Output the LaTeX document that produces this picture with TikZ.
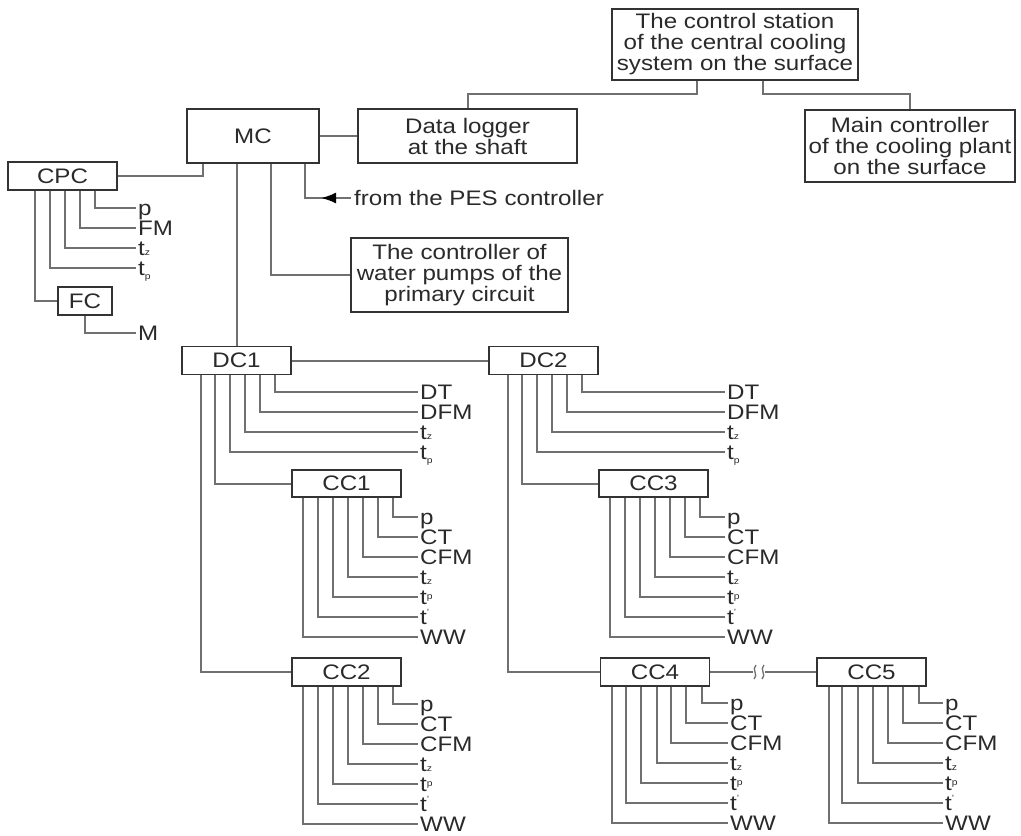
\documentclass[tikz,border=0pt]{standalone}
\usepackage{fontspec}
\setmainfont{Liberation Sans}[FakeStretch=1.15]
\usetikzlibrary{arrows.meta}
\definecolor{wiregray}{HTML}{707070}
\definecolor{boxgray}{HTML}{333333}
\definecolor{textgray}{HTML}{2A2A2A}
\newcommand{\idx}[2]{\raisebox{#1}{\fontsize{9}{9}\selectfont #2}}

\begin{document}
\begin{tikzpicture}[x=1pt, y=-1pt, font=\fontsize{21}{21}\selectfont, text=textgray,
  box/.style = {draw=boxgray, line width=1.4pt, fill=white, inner sep=0pt, align=center},
  small/.style = {box, minimum width=109pt, minimum height=28pt},
  lbl/.style = {anchor=west, inner xsep=2pt, inner ysep=0pt, text height=15pt, text depth=0pt},
  wire/.style = {draw=wiregray, line width=2pt}]
\useasboundingbox (0,0) rectangle (1021,836);

% top part
\node[box, minimum width=246pt, minimum height=71pt] (station) at (735,44.5) {The control station\\of the central cooling\\system on the surface};
\node[box, minimum width=210pt, minimum height=72pt] (plant) at (910,146) {Main controller\\of the cooling plant\\on the surface};
\node[box, minimum width=219pt, minimum height=54pt] (logger) at (467.5,136) {Data logger\\at the shaft};
\node[box, minimum width=132pt, minimum height=54pt] (MC) at (253,136) {MC};
\node[box, minimum width=217pt, minimum height=74pt] (pumps) at (459.5,275) {The controller of\\water pumps of the\\primary circuit};
\node[lbl, inner xsep=3pt] (pes) at (351,198) {from the PES controller};
\coordinate (tip) at (321,198);

\draw[wire] ([xshift=-38pt]station.south) -- ++(0,13) -| (logger.north);
\draw[wire] ([xshift=28pt]station.south) -- ++(0,13) -| (plant.north);
\draw[wire] (MC.east) -- (MC.east -| logger.west);
\draw[wire] ([xshift=18pt]MC.south) |- (pumps.west);
\draw[wire] ([xshift=52pt]MC.south) |- (pes.west);
\draw[wire, -{Latex[length=15pt, width=11pt, color=black]}] (pes.west) -- (tip);

% CPC and FC
\node[small] (CPC) at (62.5,176) {CPC};
\node[box, minimum width=54pt, minimum height=28pt] (FC) at (85,301) {FC};
\node[lbl] (cpcp) at (136,208) {p};
\node[lbl] (cpcfm) at (136,228) {FM};
\node[lbl] (cpctz) at (136,248) {t\idx{0pt}{z}};
\node[lbl] (cpctp) at (136,268) {t\idx{-4pt}{p}};
\node[lbl] (fcm) at (136,333) {M};

\draw[wire] ([xshift=-50pt]MC.south) |- (CPC.east);
\draw[wire] ([xshift=88pt]CPC.south west) |- (cpcp.west);
\draw[wire] ([xshift=73pt]CPC.south west) |- (cpcfm.west);
\draw[wire] ([xshift=58pt]CPC.south west) |- (cpctz.west);
\draw[wire] ([xshift=43pt]CPC.south west) |- (cpctp.west);
\draw[wire] ([xshift=28pt]CPC.south west) |- (FC.west);
\draw[wire] (FC.south) |- (fcm.west);

% district controllers
\node[small] (DC1) at (236.5,360.5) {DC1};
\node[small] (DC2) at (543.5,360.5) {DC2};
\node[lbl] (dt1) at (418,392) {DT};
\node[lbl] (dfm1) at (418,412) {DFM};
\node[lbl] (dtz1) at (418,432) {t\idx{0pt}{z}};
\node[lbl] (dtp1) at (418,452) {t\idx{-4pt}{p}};
\node[lbl] (dt2) at (725,392) {DT};
\node[lbl] (dfm2) at (725,412) {DFM};
\node[lbl] (dtz2) at (725,432) {t\idx{0pt}{z}};
\node[lbl] (dtp2) at (725,452) {t\idx{-4pt}{p}};

\draw[wire] (DC1.north |- MC.south) -- (DC1.north);
\draw[wire] (DC1.east) -- (DC2.west);
\draw[wire] ([xshift=94pt]DC1.south west) |- (dt1.west);
\draw[wire] ([xshift=79pt]DC1.south west) |- (dfm1.west);
\draw[wire] ([xshift=64pt]DC1.south west) |- (dtz1.west);
\draw[wire] ([xshift=49pt]DC1.south west) |- (dtp1.west);
\draw[wire] ([xshift=94pt]DC2.south west) |- (dt2.west);
\draw[wire] ([xshift=79pt]DC2.south west) |- (dfm2.west);
\draw[wire] ([xshift=64pt]DC2.south west) |- (dtz2.west);
\draw[wire] ([xshift=49pt]DC2.south west) |- (dtp2.west);

% cooler controllers
\node[small, minimum height=27pt] (CC1) at (346.5,483.5) {CC1};
\node[small, minimum height=27pt] (CC3) at (653.5,483.5) {CC3};
\node[small] (CC2) at (346.5,672) {CC2};
\node[small] (CC4) at (655,672) {CC4};
\node[small] (CC5) at (871.5,672) {CC5};

\draw[wire] ([xshift=34pt]DC1.south west) |- (CC1.west);
\draw[wire] ([xshift=20pt]DC1.south west) |- (CC2.west);
\draw[wire] ([xshift=34pt]DC2.south west) |- (CC3.west);
\draw[wire] ([xshift=20pt]DC2.south west) |- (CC4.west);
\coordinate (gapl) at (753,672);
\coordinate (gapr) at (765,672);
\draw[wire] (CC4.east) -- (gapl);
\draw[wire] (gapr) -- (CC5.west);
\draw[wire, line width=1.3pt] (756,665) .. controls (751,669) and (759,675) .. (754,679);
\draw[wire, line width=1.3pt] (764,665) .. controls (759,669) and (767,675) .. (762,679);

% CC1
\node[lbl] (p1) at (418,517) {p};
\node[lbl] (ct1) at (418,537) {CT};
\node[lbl] (cfm1) at (418,557) {CFM};
\node[lbl] (tz1) at (418,577) {t\idx{0pt}{z}};
\node[lbl] (tp1) at (418,597) {t\idx{5pt}{p}};
\node[lbl] (t1) at (418,617) {t\idx{9pt}{'}};
\node[lbl] (ww1) at (418,637) {WW};
\draw[wire] ([xshift=102pt]CC1.south west) |- (p1.west);
\draw[wire] ([xshift=87pt]CC1.south west) |- (ct1.west);
\draw[wire] ([xshift=72pt]CC1.south west) |- (cfm1.west);
\draw[wire] ([xshift=57pt]CC1.south west) |- (tz1.west);
\draw[wire] ([xshift=42pt]CC1.south west) |- (tp1.west);
\draw[wire] ([xshift=27pt]CC1.south west) |- (t1.west);
\draw[wire] ([xshift=12pt]CC1.south west) |- (ww1.west);

% CC3
\node[lbl] (p3) at (725,517) {p};
\node[lbl] (ct3) at (725,537) {CT};
\node[lbl] (cfm3) at (725,557) {CFM};
\node[lbl] (tz3) at (725,577) {t\idx{0pt}{z}};
\node[lbl] (tp3) at (725,597) {t\idx{5pt}{p}};
\node[lbl] (t3) at (725,617) {t\idx{9pt}{'}};
\node[lbl] (ww3) at (725,637) {WW};
\draw[wire] ([xshift=102pt]CC3.south west) |- (p3.west);
\draw[wire] ([xshift=87pt]CC3.south west) |- (ct3.west);
\draw[wire] ([xshift=72pt]CC3.south west) |- (cfm3.west);
\draw[wire] ([xshift=57pt]CC3.south west) |- (tz3.west);
\draw[wire] ([xshift=42pt]CC3.south west) |- (tp3.west);
\draw[wire] ([xshift=27pt]CC3.south west) |- (t3.west);
\draw[wire] ([xshift=12pt]CC3.south west) |- (ww3.west);

% CC2
\node[lbl] (p2) at (418,704) {p};
\node[lbl] (ct2) at (418,724) {CT};
\node[lbl] (cfm2) at (418,744) {CFM};
\node[lbl] (tz2) at (418,764) {t\idx{0pt}{z}};
\node[lbl] (tp2) at (418,784) {t\idx{5pt}{p}};
\node[lbl] (t2) at (418,804) {t\idx{9pt}{'}};
\node[lbl] (ww2) at (418,824) {WW};
\draw[wire] ([xshift=102pt]CC2.south west) |- (p2.west);
\draw[wire] ([xshift=87pt]CC2.south west) |- (ct2.west);
\draw[wire] ([xshift=72pt]CC2.south west) |- (cfm2.west);
\draw[wire] ([xshift=57pt]CC2.south west) |- (tz2.west);
\draw[wire] ([xshift=42pt]CC2.south west) |- (tp2.west);
\draw[wire] ([xshift=27pt]CC2.south west) |- (t2.west);
\draw[wire] ([xshift=12pt]CC2.south west) |- (ww2.west);

% CC4
\node[lbl] (p4) at (728,703) {p};
\node[lbl] (ct4) at (728,723) {CT};
\node[lbl] (cfm4) at (728,743) {CFM};
\node[lbl] (tz4) at (728,763) {t\idx{0pt}{z}};
\node[lbl] (tp4) at (728,783) {t\idx{5pt}{p}};
\node[lbl] (t4) at (728,803) {t\idx{9pt}{'}};
\node[lbl] (ww4) at (728,823) {WW};
\draw[wire] ([xshift=102pt]CC4.south west) |- (p4.west);
\draw[wire] ([xshift=86pt]CC4.south west) |- (ct4.west);
\draw[wire] ([xshift=71pt]CC4.south west) |- (cfm4.west);
\draw[wire] ([xshift=57pt]CC4.south west) |- (tz4.west);
\draw[wire] ([xshift=41pt]CC4.south west) |- (tp4.west);
\draw[wire] ([xshift=26pt]CC4.south west) |- (t4.west);
\draw[wire] ([xshift=12pt]CC4.south west) |- (ww4.west);

% CC5
\node[lbl] (p5) at (943,703) {p};
\node[lbl] (ct5) at (943,723) {CT};
\node[lbl] (cfm5) at (943,743) {CFM};
\node[lbl] (tz5) at (943,763) {t\idx{0pt}{z}};
\node[lbl] (tp5) at (943,783) {t\idx{5pt}{p}};
\node[lbl] (t5) at (943,803) {t\idx{9pt}{'}};
\node[lbl] (ww5) at (943,823) {WW};
\draw[wire] ([xshift=103pt]CC5.south west) |- (p5.west);
\draw[wire] ([xshift=87pt]CC5.south west) |- (ct5.west);
\draw[wire] ([xshift=72pt]CC5.south west) |- (cfm5.west);
\draw[wire] ([xshift=57pt]CC5.south west) |- (tz5.west);
\draw[wire] ([xshift=42pt]CC5.south west) |- (tp5.west);
\draw[wire] ([xshift=26pt]CC5.south west) |- (t5.west);
\draw[wire] ([xshift=13pt]CC5.south west) |- (ww5.west);
\end{tikzpicture}
\end{document}
